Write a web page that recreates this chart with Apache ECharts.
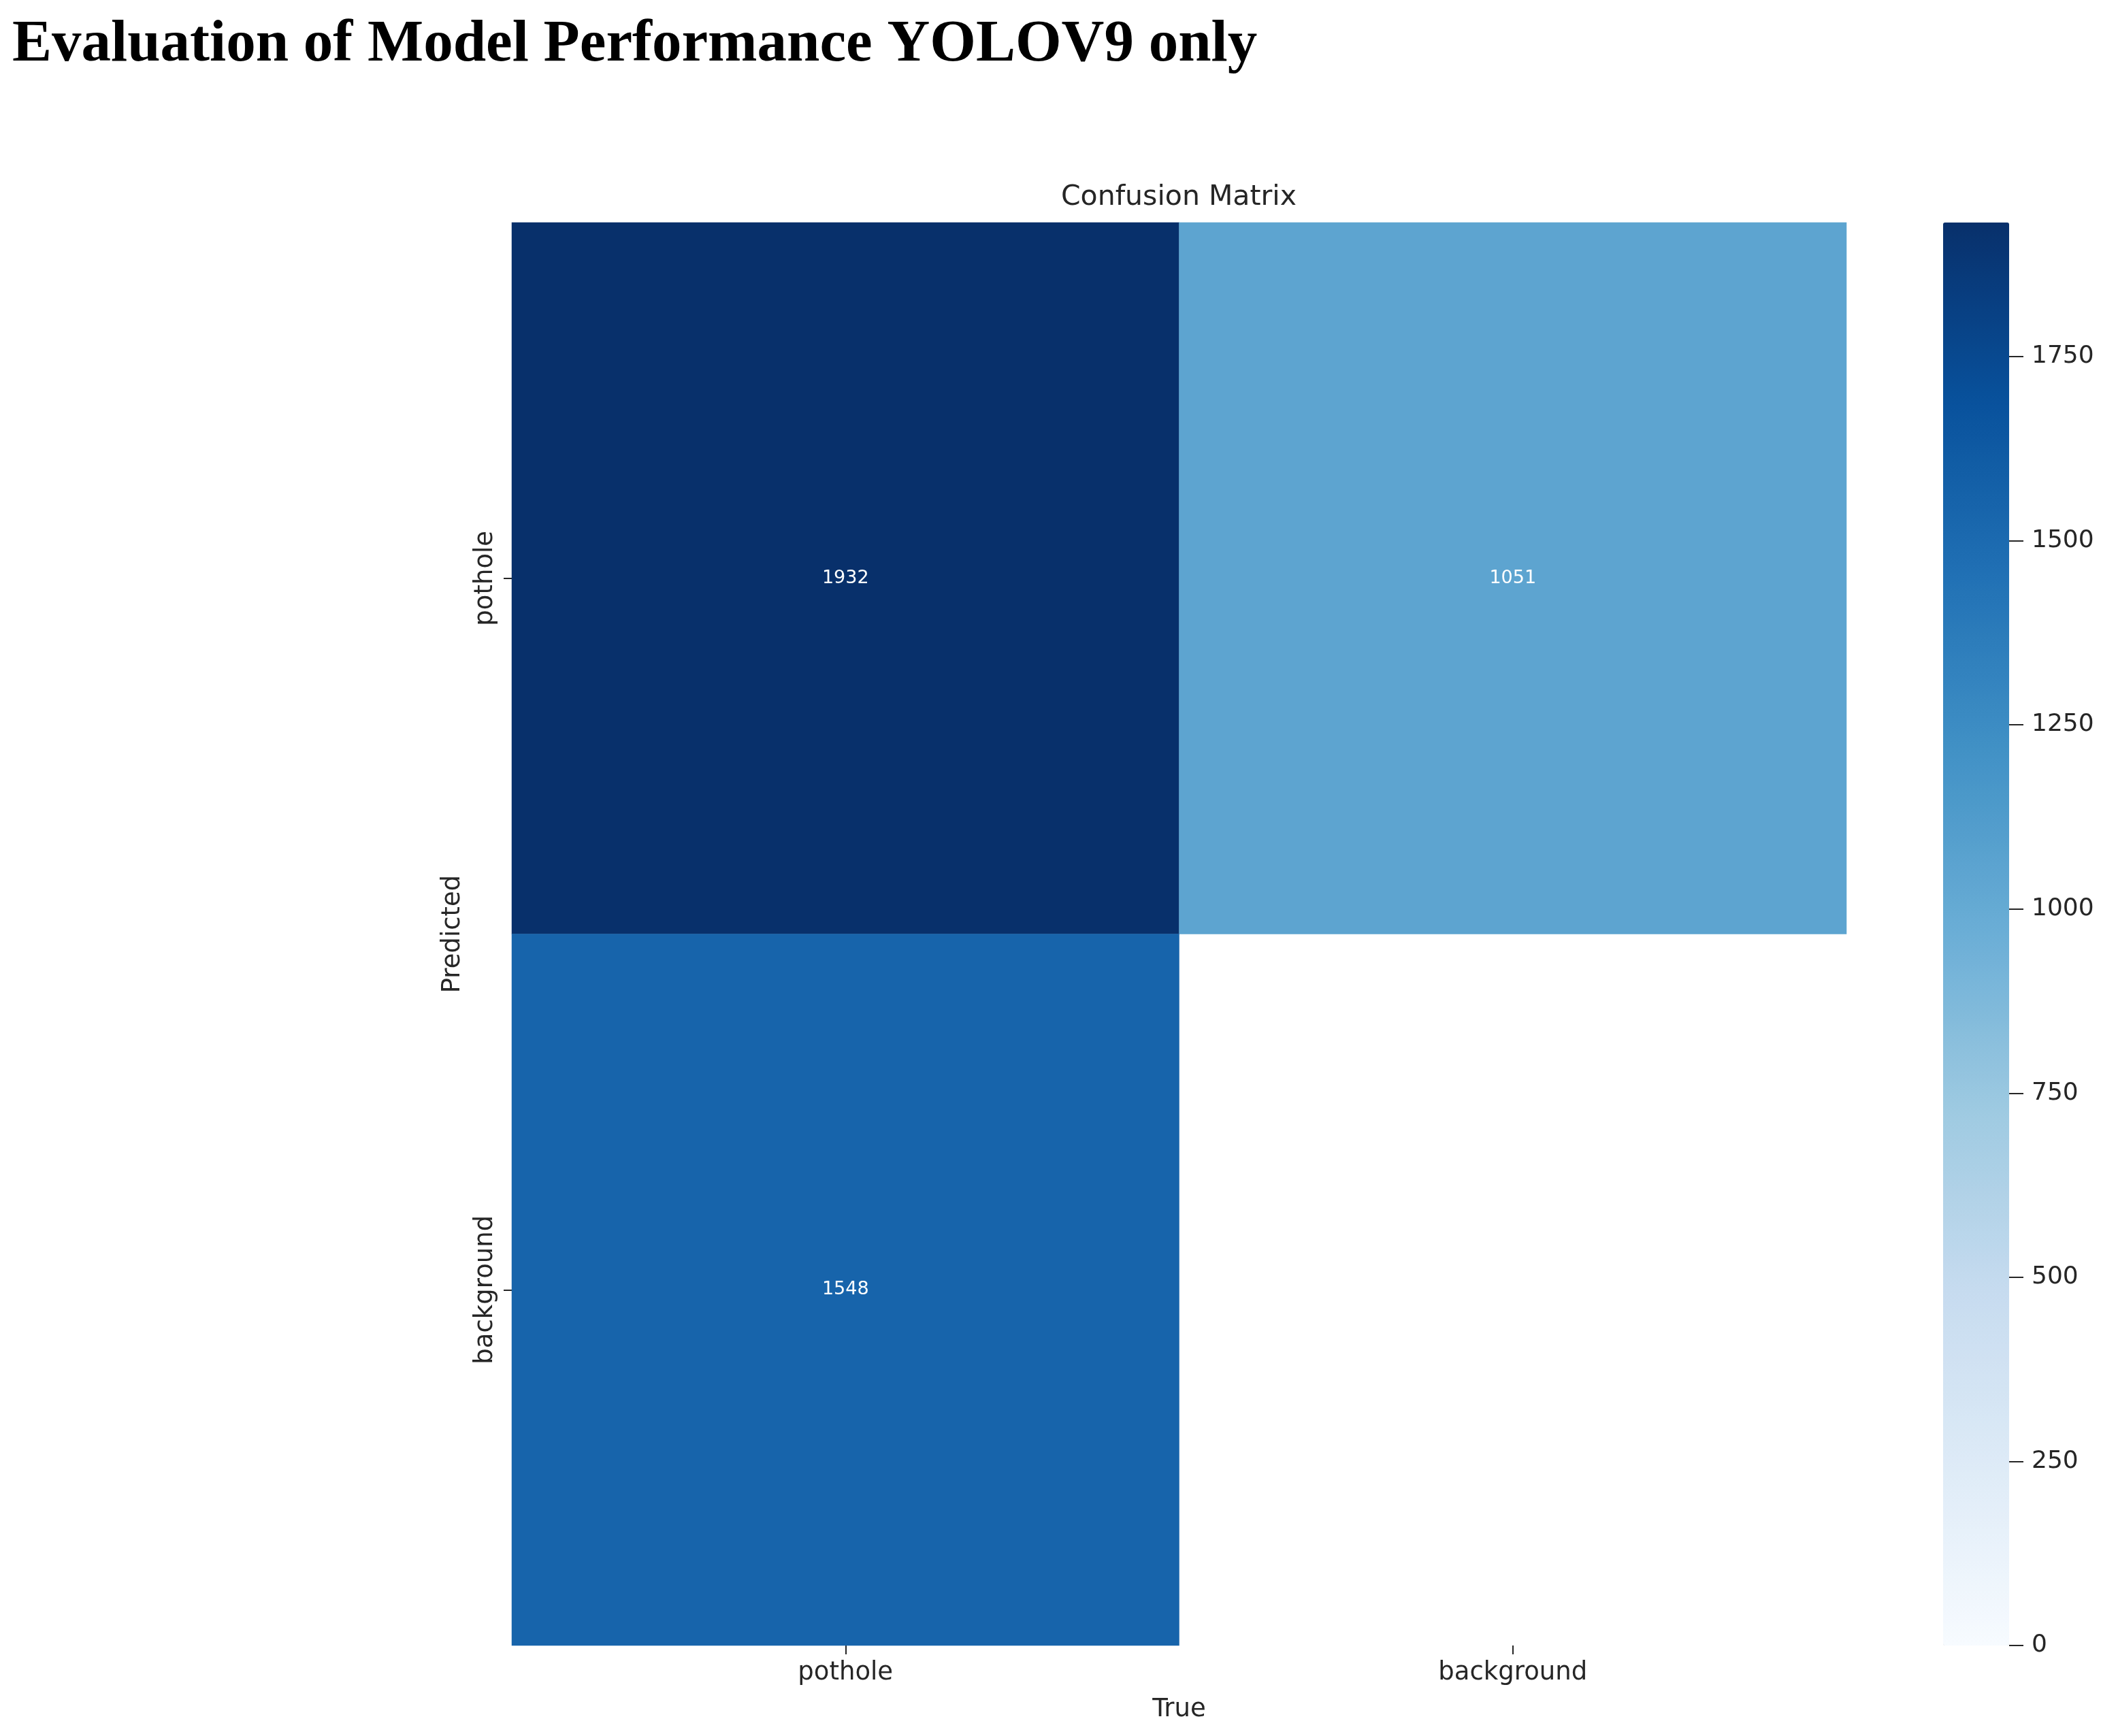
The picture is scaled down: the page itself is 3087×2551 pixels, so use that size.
<!DOCTYPE html>
<html>
<head>
<meta charset="utf-8">
<script src="https://cdn.jsdelivr.net/npm/echarts@6/dist/echarts.min.js"></script>
<style>
html,body{margin:0;padding:0;background:#fff;}
#chart{width:3087px;height:2551px;}
</style>
</head>
<body>
<div id="chart"></div>
<script>
// ---- data ----
const trueLabels = ['pothole', 'background'];
const predLabels = ['pothole', 'background'];
// [trueIndex, predictedIndex, count]; background/background cell is empty
const cellValues = [
  [0, 0, 1932],
  [1, 0, 1051],
  [0, 1, 1548]
];
const colorbarMin = 0;
const colorbarMax = 1932;
const colorbarStep = 250;
const bluesColors = ['#f7fbff', '#deebf7', '#c6dbef', '#9ecae1', '#6baed6', '#4292c6', '#2171b5', '#08519c', '#08306b'];

const textColor = '#262626';
const font = 'DejaVu Sans';

const chart = echarts.init(document.getElementById('chart'), null, {renderer: 'canvas'});

const option = {
  animation: false,
  backgroundColor: '#ffffff',
  graphic: [
    {
      type: 'text', left: 18, top: 23,
      style: {
        text: 'Evaluation of Model Performance YOLOV9 only',
        font: 'bold 87px "Liberation Serif", "DejaVu Serif", serif',
        fill: '#000000'
      }
    },
    {
      type: 'text', x: 1732, y: 290,
      style: {
        text: 'Confusion Matrix',
        font: '41px "DejaVu Sans"',
        fill: textColor,
        textAlign: 'center',
        textVerticalAlign: 'middle'
      }
    }
  ],
  grid: [
    {left: 752, top: 327, width: 1961, height: 2091, containLabel: false},
    {left: 2855, top: 327, width: 97, height: 2091, containLabel: false}
  ],
  xAxis: [
    {
      type: 'category', gridIndex: 0, data: trueLabels,
      position: 'bottom',
      name: 'True', nameLocation: 'middle', nameGap: 76,
      nameTextStyle: {fontSize: 37, color: textColor, fontFamily: font},
      axisLine: {show: false},
      axisTick: {show: true, alignWithLabel: true, length: 13, lineStyle: {color: textColor, width: 2}},
      axisLabel: {fontSize: 37, color: textColor, fontFamily: font, margin: 22},
      splitLine: {show: false}
    },
    {
      type: 'value', gridIndex: 1, show: false, min: 0, max: 1,
      axisLine: {onZero: false}
    }
  ],
  yAxis: [
    {
      type: 'category', gridIndex: 0, data: predLabels, inverse: true,
      name: 'Predicted', nameLocation: 'middle', nameGap: 68,
      nameTextStyle: {fontSize: 37, color: textColor, fontFamily: font},
      axisLine: {show: false},
      axisTick: {show: true, alignWithLabel: true, length: 12, lineStyle: {color: textColor, width: 2}},
      axisLabel: {fontSize: 37, color: textColor, fontFamily: font, rotate: 90, margin: 20},
      splitLine: {show: false}
    },
    {
      type: 'value', gridIndex: 1, position: 'right',
      min: colorbarMin, max: colorbarMax, interval: colorbarStep,
      axisLine: {show: false, onZero: false},
      axisTick: {show: true, length: 21, lineStyle: {color: textColor, width: 2}},
      axisLabel: {fontSize: 36, color: textColor, fontFamily: font, margin: 33,
        showMaxLabel: false,
        formatter: function (v) { return (v % colorbarStep === 0) ? String(v) : ''; }
      },
      splitLine: {show: false}
    }
  ],
  visualMap: {
    type: 'continuous',
    min: colorbarMin, max: colorbarMax,
    seriesIndex: 0,
    calculable: false,
    orient: 'vertical',
    left: 2855, top: 327,
    itemWidth: 97, itemHeight: 2091,
    padding: 0,
    text: null,
    showLabel: false,
    hoverLink: false,
    inRange: {color: bluesColors}
  },
  series: [
    {
      type: 'heatmap',
      xAxisIndex: 0, yAxisIndex: 0,
      data: cellValues,
      label: {
        show: true, color: '#ffffff', fontSize: 27, fontFamily: font
      },
      itemStyle: {borderWidth: 0},
      emphasis: {disabled: true}
    }
  ]
};
chart.setOption(option);
</script>
</body>
</html>
